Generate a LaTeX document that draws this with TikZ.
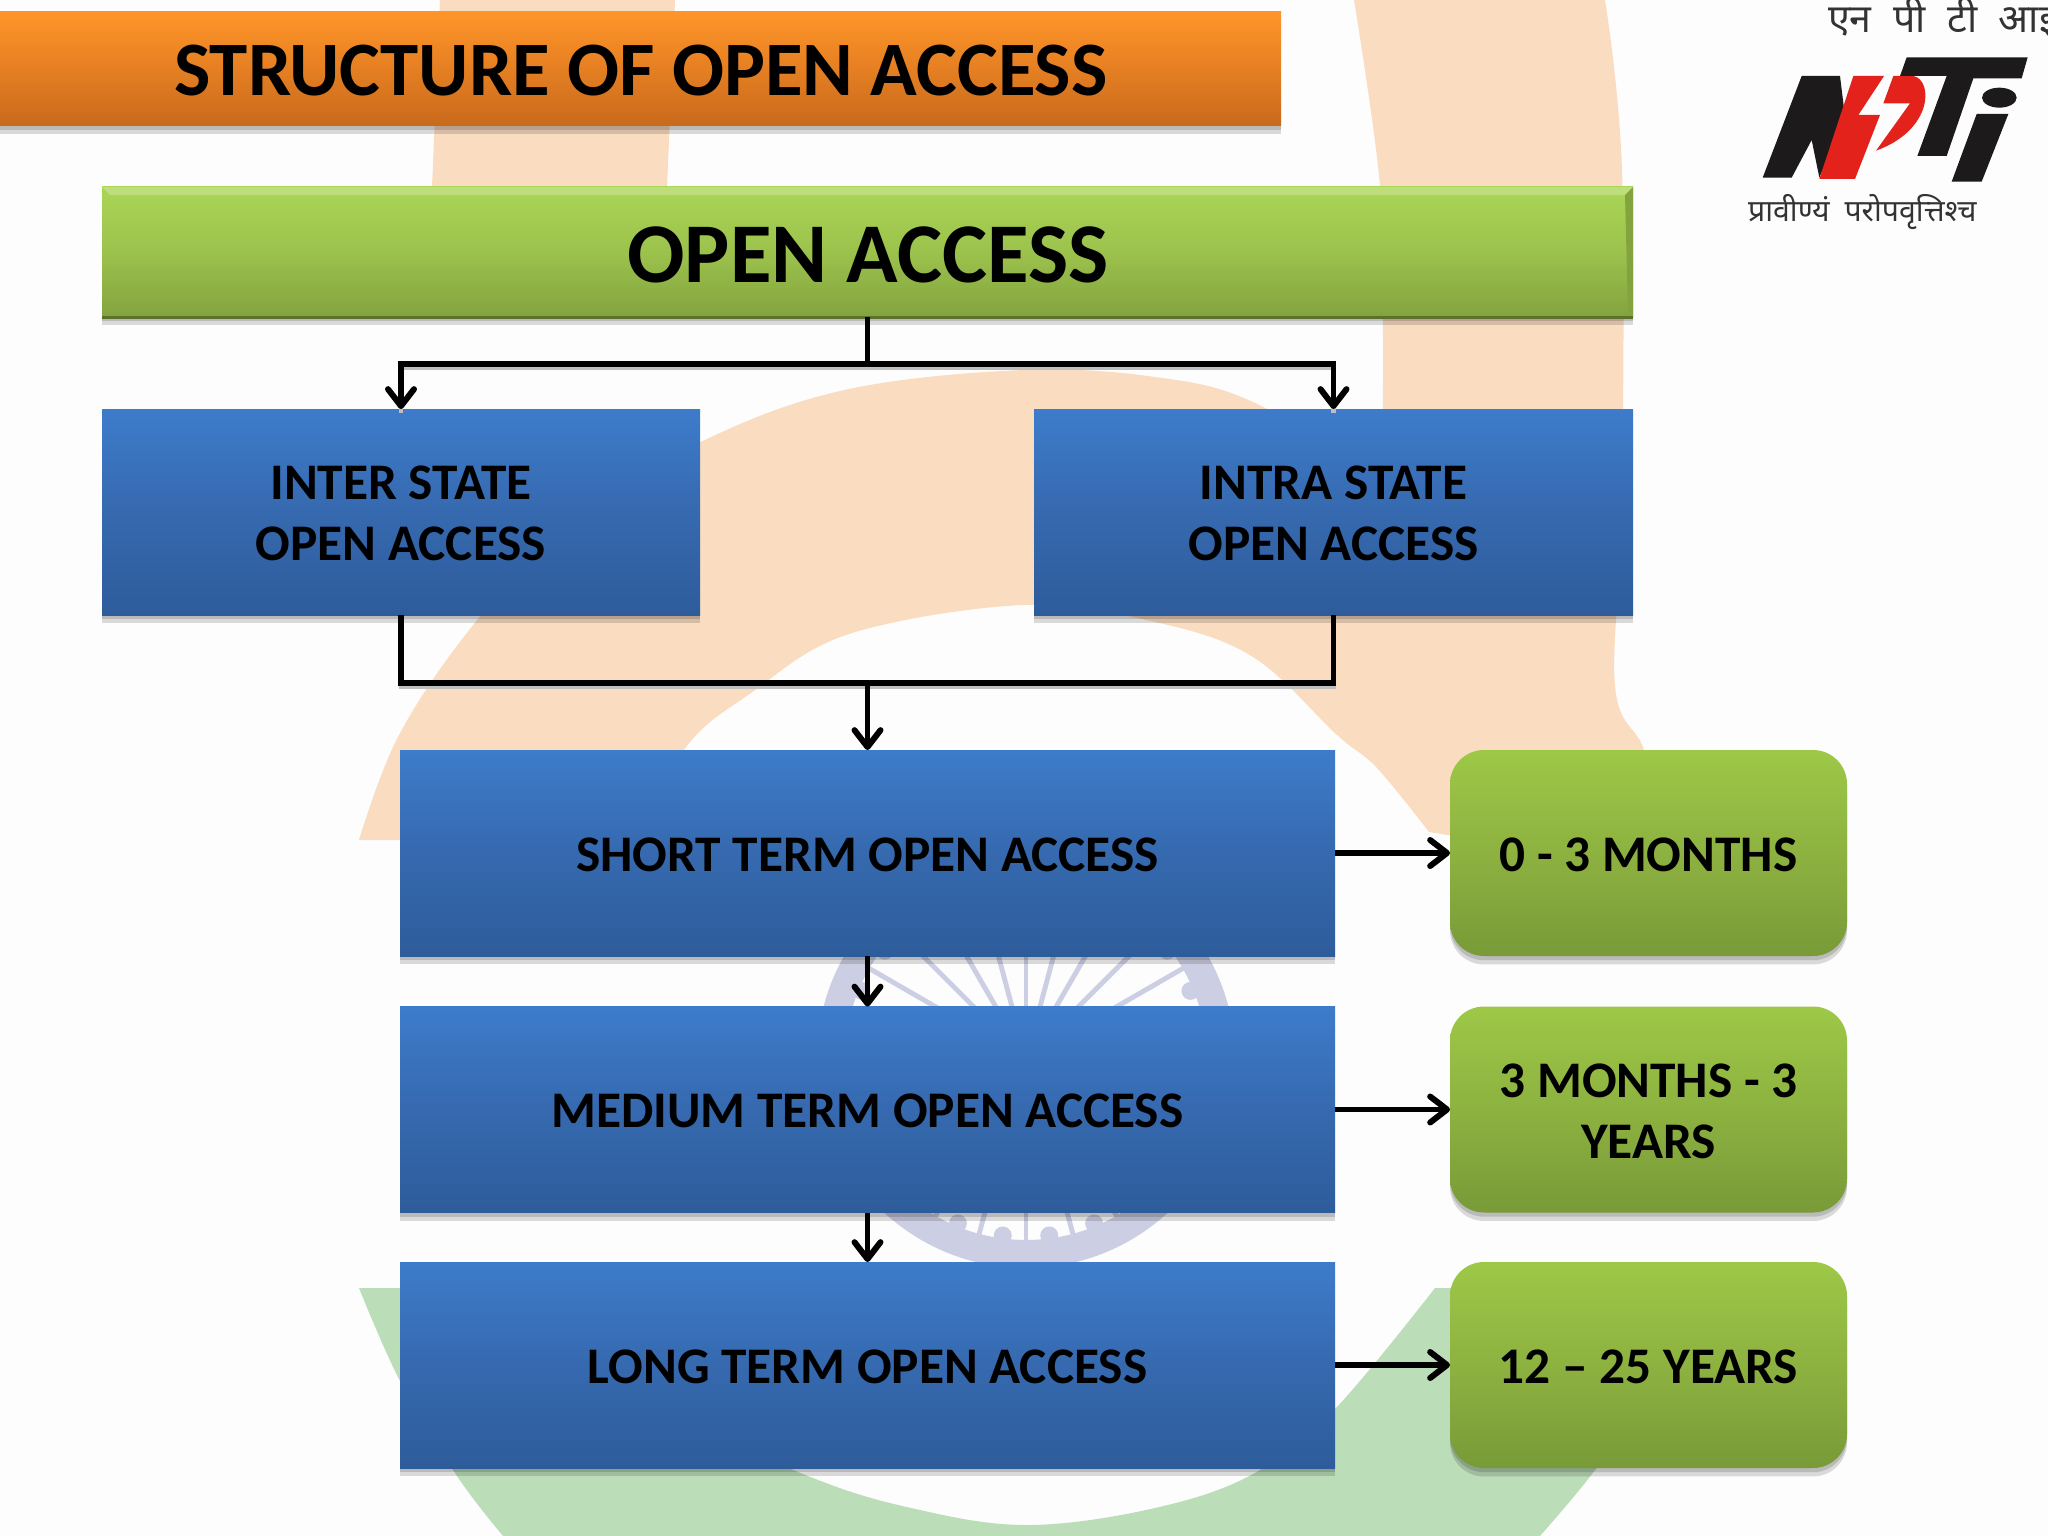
\documentclass[tikz,border=0pt]{standalone}
\usepackage{fontspec}
\setmainfont{Carlito}
\newfontfamily\hindi[Script=Devanagari]{Noto Sans}
\usetikzlibrary{arrows.meta,shadows,calc}
\definecolor{pageBg}{HTML}{FDFDFD}
\definecolor{peach}{HTML}{FADCC0}
\definecolor{leaf}{HTML}{BBDDB8}
\definecolor{wheel}{HTML}{CCCFE4}
\definecolor{logoRed}{HTML}{E3231B}
\definecolor{logoBlack}{HTML}{1C1A1A}
\newcommand{\fs}[1]{\fontsize{#1}{#1}\selectfont}
\newcommand{\dn}{\rule{0pt}{52pt}}
\tikzset{
  x=0.05cm,y=-0.05cm,
  softshadow/.style={general shadow={shadow xshift=0pt,shadow yshift=-6pt,fill=black,opacity=.14},
                     general shadow={shadow xshift=0pt,shadow yshift=-12pt,fill=black,opacity=.14}},
  basebox/.style n args={2}{rectangle,draw=none,inner sep=0pt,outer sep=0pt,
    minimum width=#1*0.05cm,minimum height=#2*0.05cm,align=center,softshadow,
    font=\bfseries\fontsize{73}{87}\selectfont,text=black},
  bluebox/.style n args={2}{basebox={#1}{#2},top color=blue1,bottom color=blue2,middle color=blue3},
  greenround/.style={basebox={397}{206},rounded corners=34*0.05cm,top color=grn1,bottom color=grn2,middle color=grn3},
  conn/.style={draw=black,line width=7.5pt,line cap=butt,line join=miter},
  arrowconn/.style={conn,-{Straight Barb[length=24pt,width=37pt,line width=8.5pt,round]}},
  busshadow/.style={preaction={draw=black!25,-,line width=6pt,transform canvas={yshift=-5pt}}},
}
\definecolor{blue1}{HTML}{3D7CCB}
\definecolor{blue3}{HTML}{3669AF}
\definecolor{blue2}{HTML}{2E5C9B}
\definecolor{grn1}{HTML}{9DC847}
\definecolor{grn3}{HTML}{8DB240}
\definecolor{grn2}{HTML}{789A38}
\definecolor{bar1}{HTML}{AAD555}
\definecolor{bar3}{HTML}{9CC24C}
\definecolor{bar2}{HTML}{83A33F}
\definecolor{tit1}{HTML}{FF9529}
\definecolor{tit3}{HTML}{E57F22}
\definecolor{tit2}{HTML}{C8691C}
\begin{document}
\begin{tikzpicture}
\clip (0,0) rectangle (2048,1536);
\fill[pageBg] (0,0) rectangle (2048,1536);
% watermark: orange arch and bands
\fill[peach] (440,0) -- (675,0) -- (667,187) -- (667,260) -- (430,260) -- (432,187) -- cycle;
\fill[peach] (359,840) -- plot[smooth,tension=.6] coordinates {(359,840) (398,737) (470,629) (570,520) (709,438) (849,389) (1024,370) (1155,377) (1253,402) (1382,480)}
  -- plot[smooth,tension=.6] coordinates {(1382,480) (1383,340) (1380,186) (1354,0)}
  -- plot[smooth,tension=.6] coordinates {(1605,0) (1622,170) (1622,500) (1615,686) (1644,750) (1660,830)}
  -- (1480,840) -- plot[smooth,tension=.6] coordinates {(1429,832) (1377,768) (1337,735) (1253,657) (1155,622) (1024,605) (849,634) (751,693) (686,747) (640,840)}
  -- cycle;
% watermark: green arc
\fill[leaf] plot[smooth,tension=.6] coordinates {(359,1288) (400,1381) (457,1476) (503,1536)}
  -- plot[smooth,tension=.6] coordinates {(1540,1536) (1592,1474) (1660,1380) (1690,1288)}
  -- (1435,1288) -- plot[smooth,tension=.6] coordinates {(1435,1288) (1334,1410) (1253,1474) (1155,1508) (1030,1525) (920,1510) (803,1474) (600,1380) (450,1288)}
  -- cycle;
% watermark: wheel
\coordinate (wheelc) at (1026,1059);
\foreach \a in {0,15,...,345}{
  \draw[wheel,line width=7pt] (wheelc) ++(\a:30) -- ++(\a:160);
  \fill[wheel] (wheelc) ++(\a+7.5:178) circle (9);
}
\draw[wheel,line width=40pt] (wheelc) circle (195);

% logo
\begin{scope}[shift={(1680,0)},x=0.05cm/3,y=-0.05cm/3]
  \fill[logoBlack] (248,533) -- (365,228) -- (480,228) -- (495,350) -- (440,480) -- (418,533) -- (395,420) -- (335,533) -- cycle;
  \fill[logoRed] (418,537) -- (520,228) -- (612,228) -- (535,345) -- (600,345) -- (525,537) -- cycle;
  \fill[logoRed] (640,228) -- (700,228) .. controls (760,240) and (760,390) .. (588,452) -- (690,310) -- (610,310) -- cycle;
  \fill[logoBlack] (660,228) -- (680,172) -- (1043,172) -- (1025,235) -- (880,235) -- (800,468) -- (712,468) -- (800,228) -- cycle;
  \fill[logoBlack] (890,342) -- (985,342) -- (905,545) -- (815,545) -- cycle;
  \fill[logoBlack] (958,293) ellipse [x radius=52,y radius=30];
\end{scope}
\node[anchor=west,inner sep=0pt,text=black!80] (brandtop) at (1828,18) {\hindi\fs{56}एन\hspace{16pt} पी\hspace{16pt} टी\hspace{16pt} आई};
\node[anchor=west,inner sep=0pt,text=black!80] (brandsub) at (1748,212) {\hindi\fs{43}प्रावीण्यं\hspace{10pt} परोपवृत्तिश्च};

% title and boxes
\node[basebox={1281}{114},top color=tit1,bottom color=tit2,middle color=tit3] (title) at (640.5,69) {};
\node[inner sep=0pt,font=\bfseries\fs{109.5},text=black] (titletext) at (641,71) {STRUCTURE OF OPEN ACCESS};
\node[basebox={1531}{130},top color=bar1,bottom color=bar2,middle color=bar3] (oa) at (867.5,252) {};
\node[inner sep=0pt,font=\bfseries\fs{121},text=black] (oatext) at (868,255) {OPEN ACCESS};
\fill[white!22!bar1] (102,187) -- (1633,187) -- (1625,195) -- (110,195) -- cycle;
\fill[bar2] (1633,187) -- (1633,317) -- (1628,312) -- (1625,195) -- cycle;
\fill[black!30!bar2] (102,319) rectangle (1633,316);

\node[bluebox={598}{206}] (inter) at (401,512) {\dn INTER STATE\\OPEN ACCESS};
\node[bluebox={599}{206}] (intra) at (1333.5,512) {\dn INTRA STATE\\OPEN ACCESS};
\node[bluebox={935}{206}] (short) at (867.5,853) {\dn SHORT TERM OPEN ACCESS};
\node[bluebox={935}{206}] (medium) at (867.5,1109.5) {\dn MEDIUM TERM OPEN ACCESS};
\node[bluebox={935}{206}] (long) at (867.5,1365) {\dn LONG TERM OPEN ACCESS};
\node[greenround] (g1) at (1648.5,853) {\dn 0 - 3 MONTHS};
\node[greenround] (g2) at (1648.5,1109.5) {\dn 3 MONTHS - 3\\YEARS};
\node[greenround] (g3) at (1648.5,1365) {\dn 12 – 25 YEARS};

% connectors
\coordinate (bus1) at (867.5,364);
\coordinate (bus2) at (867.5,683);
\draw[conn] (oa.south) -- (bus1);
\draw[arrowconn,busshadow] (bus1) -| (inter.north);
\draw[arrowconn,busshadow] (bus1) -| (intra.north);
\draw[conn,busshadow] (inter.south) |- (bus2);
\draw[conn,busshadow] (intra.south) |- (bus2);
\draw[arrowconn] (bus2) -- (short.north);
\draw[arrowconn] (short.south) -- (medium.north);
\draw[arrowconn] (medium.south) -- (long.north);
\draw[arrowconn] (short.east) -- (g1.west);
\draw[arrowconn] (medium.east) -- (g2.west);
\draw[arrowconn] (long.east) -- (g3.west);
\end{tikzpicture}
\end{document}
